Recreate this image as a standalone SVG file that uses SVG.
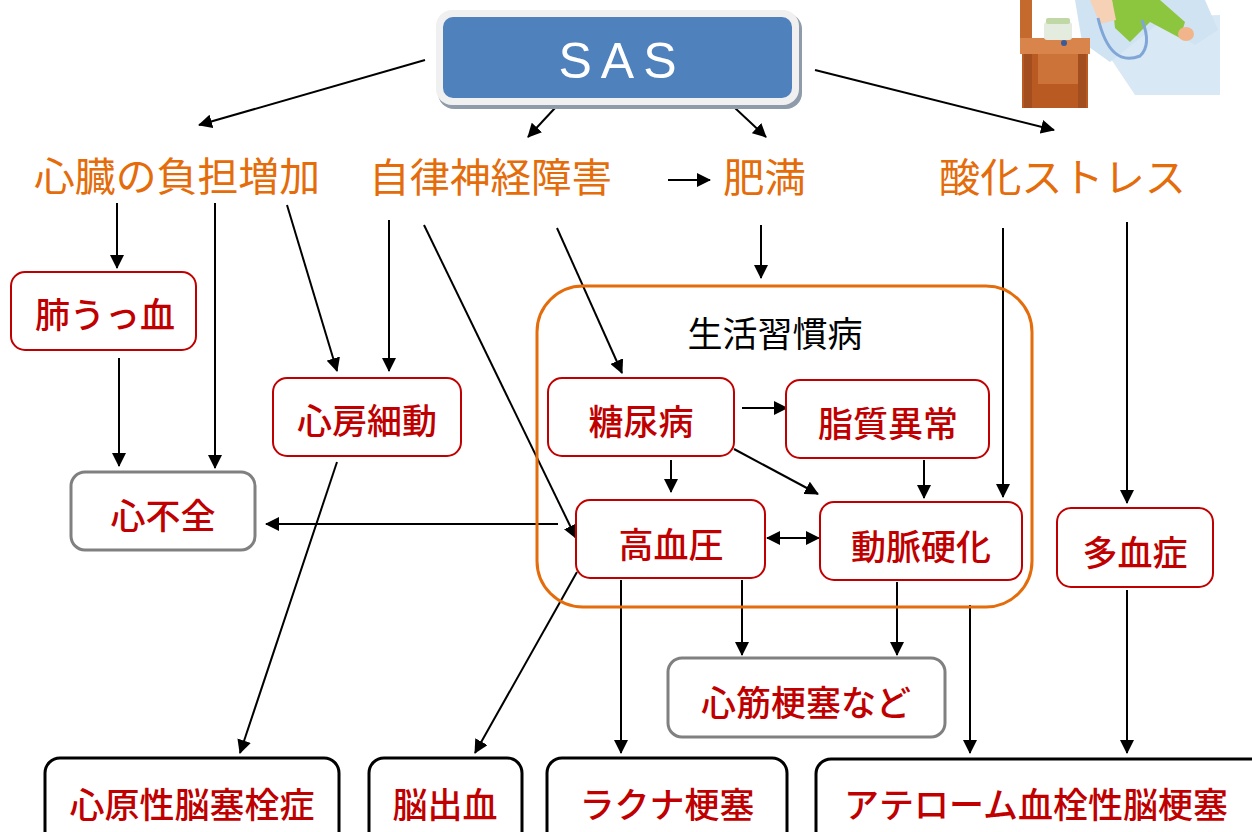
<svg xmlns="http://www.w3.org/2000/svg" width="1252" height="832" viewBox="0 0 1252 832">
  <defs>
    <marker id="ah" viewBox="0 0 14 14" refX="13" refY="7" markerWidth="14" markerHeight="14" markerUnits="userSpaceOnUse" orient="auto-start-reverse">
      <path d="M0,0 L14,7 L0,14 Z" fill="#000"/>
    </marker>
    <style>
      .cause { font-family: "Noto Sans CJK JP", "Noto Sans", sans-serif; font-size: 40px; fill: #E46C0A; }
      .lbl { font-family: "Noto Sans CJK JP", "Noto Sans", sans-serif; font-size: 35px; font-weight: 500; fill: #C00000; text-anchor: middle; }
      .red { fill: #fff; stroke: #C00000; stroke-width: 2; }
      .grey { fill: #fff; stroke: #808080; stroke-width: 3; }
      .blk { fill: #fff; stroke: #000; stroke-width: 3; }
      .conn line { stroke: #000; stroke-width: 2; marker-end: url(#ah); }
    </style>
  </defs>

  <rect width="1252" height="832" fill="#fff"/>

  <!-- bedside illustration -->
  <g id="illustration">
    <path d="M1085,20 L1220,15 L1220,95 L1135,95 Z" fill="#D8E8F5"/>
    <path d="M1075,0 L1205,0 L1218,30 L1195,45 L1160,22 L1110,62 L1082,42 Z" fill="#CFE3F3"/>
    <path d="M1112,0 L1160,0 L1185,22 L1180,38 L1150,22 L1130,42 L1115,28 Z" fill="#8CC63F"/>
    <ellipse cx="1186" cy="34" rx="8" ry="7" fill="#F2B48A"/>
    <path d="M1090,0 L1112,0 L1116,20 L1100,24 Z" fill="#F6D1B5"/>
    <path d="M1098,18 Q1110,68 1140,56 Q1152,45 1142,20" fill="none" stroke="#7FA6D6" stroke-width="3"/>
    <rect x="1020" y="0" width="12" height="48" fill="#C46A2E"/>
    <rect x="1020" y="38" width="70" height="16" fill="#D9844A"/>
    <rect x="1022" y="54" width="66" height="54" fill="#B85A22"/>
    <rect x="1038" y="54" width="46" height="30" fill="#CC733A"/>
    <rect x="1024" y="54" width="8" height="54" fill="#A24E1E"/>
    <rect x="1078" y="54" width="8" height="54" fill="#A24E1E"/>
    <rect x="1044" y="22" width="28" height="18" rx="3" fill="#E4EBDF"/>
    <rect x="1046" y="18" width="24" height="6" rx="2" fill="#BFD8A6"/>
    <circle cx="1064" cy="43" r="3" fill="#3A5A9A"/>
  </g>

  <!-- connectors -->
  <g id="connectors" class="conn">
    <line x1="425" y1="60" x2="199" y2="125"/>
    <line x1="555" y1="108" x2="528" y2="137"/>
    <line x1="735" y1="108" x2="766" y2="137"/>
    <line x1="815" y1="70" x2="1054" y2="130"/>
    <line x1="668" y1="180" x2="710" y2="180"/>
    <line x1="117" y1="203" x2="117" y2="268"/>
    <line x1="215" y1="203" x2="215" y2="468"/>
    <line x1="287" y1="205" x2="337" y2="371"/>
    <line x1="119" y1="358" x2="119" y2="466"/>
    <line x1="389" y1="220" x2="389" y2="371"/>
    <line x1="424" y1="225" x2="576" y2="538"/>
    <line x1="557" y1="228" x2="622" y2="373"/>
    <line x1="761" y1="225" x2="761" y2="278"/>
    <line x1="1003" y1="228" x2="1003" y2="497"/>
    <line x1="1127" y1="222" x2="1127" y2="503"/>
    <line x1="742" y1="408" x2="787" y2="408"/>
    <line x1="671" y1="460" x2="671" y2="492"/>
    <line x1="734" y1="449" x2="818" y2="494"/>
    <line x1="924" y1="460" x2="924" y2="498"/>
    <line x1="767" y1="538" x2="819" y2="538" marker-start="url(#ah)"/>
    <line x1="558" y1="524" x2="266" y2="524"/>
    <line x1="337" y1="462" x2="240" y2="753"/>
    <line x1="577" y1="572" x2="475" y2="753"/>
    <line x1="621" y1="580" x2="621" y2="753"/>
    <line x1="742" y1="580" x2="742" y2="655"/>
    <line x1="897" y1="582" x2="897" y2="655"/>
    <line x1="970" y1="605" x2="970" y2="753"/>
    <line x1="1127" y1="590" x2="1127" y2="753"/>
  </g>

  <!-- SAS -->
  <g id="sas">
    <rect x="438" y="13" width="364" height="96" rx="16" fill="#8E9BAA"/>
    <rect x="436" y="10" width="363" height="95" rx="16" fill="#F0F0F0"/>
    <rect x="443" y="17" width="349" height="81" rx="10" fill="#4F81BD"/>
    <text x="622" y="78" font-family="'Liberation Sans', sans-serif" font-size="50" fill="#fff" text-anchor="middle" letter-spacing="9">SAS</text>
  </g>

  <!-- primary effects -->
  <g id="heart-load"><text class="cause" x="34" y="191" textLength="286" lengthAdjust="spacingAndGlyphs">心臓の負担増加</text></g>
  <g id="autonomic"><text class="cause" x="369" y="192" textLength="243" lengthAdjust="spacingAndGlyphs">自律神経障害</text></g>
  <g id="obesity"><text class="cause" x="723" y="192" textLength="83" lengthAdjust="spacingAndGlyphs">肥満</text></g>
  <g id="oxidative"><text class="cause" x="939" y="192" textLength="247" lengthAdjust="spacingAndGlyphs">酸化ストレス</text></g>

  <!-- lifestyle disease group -->
  <g id="lifestyle">
    <rect x="537" y="286" width="495" height="321" rx="46" fill="none" stroke="#E46C0A" stroke-width="3"/>
    <text x="775" y="347" font-family="'Noto Sans CJK JP', sans-serif" font-size="35" fill="#000" text-anchor="middle">生活習慣病</text>
  </g>

  <g id="pulm-congestion">
    <rect class="red" x="11" y="272" width="185" height="78" rx="14"/>
    <text class="lbl" x="105" y="328">肺うっ血</text>
  </g>
  <g id="heart-failure">
    <rect class="grey" x="71" y="472" width="184" height="78" rx="14"/>
    <text class="lbl" x="163" y="529">心不全</text>
  </g>
  <g id="afib">
    <rect class="red" x="273" y="378" width="188" height="78" rx="14"/>
    <text class="lbl" x="367" y="434">心房細動</text>
  </g>
  <g id="diabetes">
    <rect class="red" x="548" y="378" width="186" height="78" rx="14"/>
    <text class="lbl" x="641" y="435">糖尿病</text>
  </g>
  <g id="dyslipidemia">
    <rect class="red" x="786" y="380" width="203" height="78" rx="14"/>
    <text class="lbl" x="888" y="437">脂質異常</text>
  </g>
  <g id="hypertension">
    <rect class="red" x="576" y="500" width="189" height="78" rx="14"/>
    <text class="lbl" x="671" y="558">高血圧</text>
  </g>
  <g id="arteriosclerosis">
    <rect class="red" x="820" y="502" width="202" height="78" rx="14"/>
    <text class="lbl" x="921" y="560">動脈硬化</text>
  </g>
  <g id="polycythemia">
    <rect class="red" x="1057" y="508" width="156" height="79" rx="14"/>
    <text class="lbl" x="1135" y="566">多血症</text>
  </g>
  <g id="mi">
    <rect class="grey" x="668" y="658" width="277" height="79" rx="14"/>
    <text class="lbl" x="806" y="716">心筋梗塞など</text>
  </g>

  <!-- cerebral outcomes -->
  <g id="cardioembolic">
    <rect class="blk" x="45" y="758" width="294" height="100" rx="15"/>
    <text class="lbl" x="192" y="818">心原性脳塞栓症</text>
  </g>
  <g id="hemorrhage">
    <rect class="blk" x="369" y="758" width="153" height="100" rx="15"/>
    <text class="lbl" x="445" y="818">脳出血</text>
  </g>
  <g id="lacunar">
    <rect class="blk" x="547" y="758" width="240" height="100" rx="15"/>
    <text class="lbl" x="667" y="818">ラクナ梗塞</text>
  </g>
  <g id="atherothrombotic">
    <rect class="blk" x="816" y="759" width="460" height="100" rx="15"/>
    <text class="lbl" x="1036" y="818">アテローム血栓性脳梗塞</text>
  </g>
</svg>
